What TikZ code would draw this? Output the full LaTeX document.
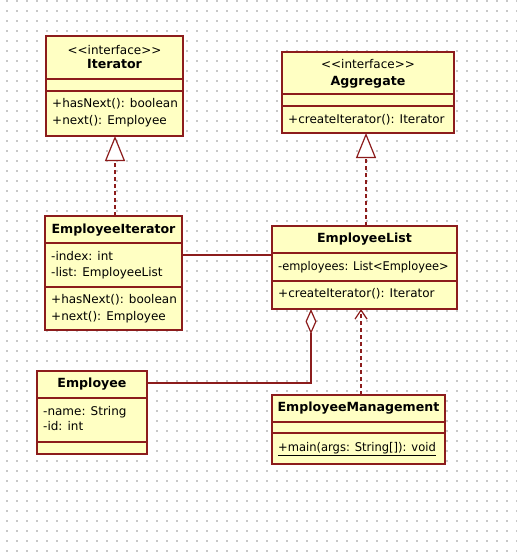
\documentclass[tikz,border=0pt]{standalone}
\usepackage{fontspec}
\setmainfont{DejaVu Sans}
\usetikzlibrary{arrows.meta}
\definecolor{bord}{RGB}{140,28,28}
\definecolor{boxfill}{RGB}{255,255,195}
\definecolor{dotc}{RGB}{200,200,200}
\newcommand\umlfont{\fontsize{12}{14}\selectfont}
\newcommand\umlbfont{\fontsize{12.6}{14}\selectfont\bfseries}
\tikzset{
  box/.style={draw=bord, fill=boxfill, line width=1.3pt, anchor=north west, inner sep=0pt, outer sep=0pt},
  txt/.style={anchor=west, inner sep=0pt, text height=8.5pt, text depth=2.5pt, font=\umlfont},
  ttl/.style={anchor=center, inner sep=0pt, text height=8.5pt, text depth=2.5pt, font=\umlbfont},
  stereo/.style={anchor=center, inner sep=0pt, text height=8.5pt, text depth=2.5pt, font=\umlfont},
  conn/.style={draw=bord, line width=1.2pt},
  gen/.style={conn, dash pattern=on 4pt off 3pt, -{Triangle[open, width=20pt, length=25pt, fill=white]}},
  aggr/.style={conn, -{Diamond[open, width=11pt, length=25pt, fill=white]}},
  dep/.style={conn, dash pattern=on 4pt off 3pt, -{Straight Barb[length=9pt, width=12pt]}}
}
\newcommand\umlbox[5]{\node[box, minimum width=#3pt, minimum height=#4pt] (#1) at (#2) {#5};}
\begin{document}
\begin{tikzpicture}[x=1pt, y=-1pt]
\fill[white] (0,0) rectangle (517,552);
\useasboundingbox (0,0) rectangle (517,552);
\foreach \x in {7,17,...,517}{
  \foreach \y in {1,11,...,551}{
    \fill[dotc] (\x-0.6,\y-0.6) rectangle ++(1.2,1.2);
  }
}
% Iterator
\umlbox{itN}{46,36}{137}{43}{}
\umlbox{itA}{46,79}{137}{12}{}
\umlbox{itM}{46,91}{137}{45}{}
\node[stereo] (itS) at (114.5,51) {{<}{<}interface{>}{>}};
\node[ttl] (itT) at (114.5,65) {Iterator};
\node[txt] (itM1) at (52,104) {+hasNext(): boolean};
\node[txt] (itM2) at (52,121) {+next(): Employee};
% Aggregate
\umlbox{agN}{282,52}{172}{42}{}
\umlbox{agA}{282,94}{172}{12}{}
\umlbox{agM}{282,106}{172}{27}{}
\node[stereo] (agS) at (368,65) {{<}{<}interface{>}{>}};
\node[ttl] (agT) at (368,82) {Aggregate};
\node[txt] (agM1) at (288,120) {+createIterator(): Iterator};
% EmployeeIterator
\umlbox{eiN}{45,216}{137}{27}{}
\umlbox{eiA}{45,243}{137}{44}{}
\umlbox{eiM}{45,287}{137}{43}{}
\node[ttl] (eiT) at (113.5,230) {EmployeeIterator};
\node[txt] (eiA1) at (51,257) {-index: int};
\node[txt] (eiA2) at (51,273) {-list: EmployeeList};
\node[txt] (eiM1) at (51,300) {+hasNext(): boolean};
\node[txt] (eiM2) at (51,317) {+next(): Employee};
% EmployeeList
\umlbox{elN}{272,226}{185}{27}{}
\umlbox{elA}{272,253}{185}{28}{}
\umlbox{elM}{272,281}{185}{28}{}
\node[ttl] (elT) at (364.5,239) {EmployeeList};
\node[txt] (elA1) at (278,267) {\scalebox{0.95}[1]{-employees: List{<}Employee{>}}};
\node[txt] (elM1) at (278,294) {+createIterator(): Iterator};
% Employee
\umlbox{emN}{37,371}{110}{27}{}
\umlbox{emA}{37,398}{110}{44}{}
\umlbox{emM}{37,442}{110}{12}{}
\node[ttl] (emT) at (92,384) {Employee};
\node[txt] (emA1) at (43,412) {-name: String};
\node[txt] (emA2) at (43,427) {-id: int};
% EmployeeManagement
\umlbox{mgN}{272,395}{173}{27}{}
\umlbox{mgA}{272,422}{173}{11}{}
\umlbox{mgM}{272,433}{173}{31}{}
\node[ttl] (mgT) at (358.5,408) {EmployeeManagement};
\node[txt] (mgM1) at (278,448) {\scalebox{0.96}[1]{\underline{+main(args: String[]): void}}};
% connectors
\draw[gen] ([xshift=70pt]eiN.north west) -- ([xshift=70pt]eiN.north west |- itM.south);
\draw[gen] ([xshift=94pt]elN.north west) -- ([xshift=94pt]elN.north west |- agM.south);
\draw[conn] ([yshift=-12pt]eiA.north east) -- ([yshift=-12pt]eiA.north east -| elA.west);
\draw[aggr] ([yshift=-12pt]emN.north east) -| ([xshift=39pt]elM.south west);
\draw[dep] ([xshift=89pt]mgN.north west) -- ([xshift=89pt]elM.south west);
\end{tikzpicture}
\end{document}
